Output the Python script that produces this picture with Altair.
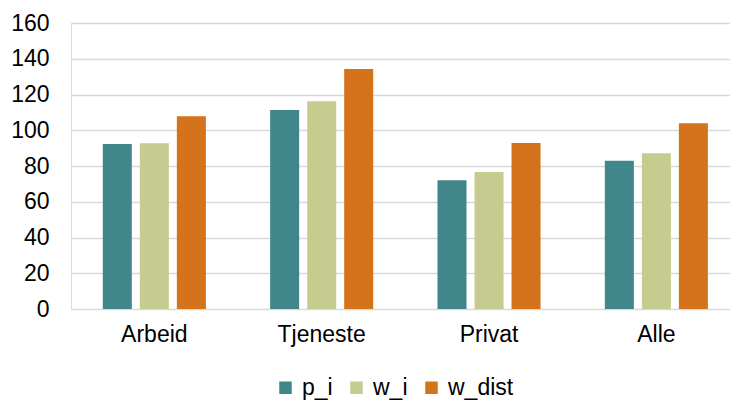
import altair as alt
import pandas as pd

categories = ["Arbeid", "Tjeneste", "Privat", "Alle"]
series = ["p_i", "w_i", "w_dist"]
p_i = [92.3, 111.3, 72.0, 83.0]
w_i = [92.7, 116.2, 76.6, 87.1]
w_dist = [107.8, 134.3, 92.9, 103.9]
colors = ["#41868A", "#C6CC8F", "#D4731C"]
y_ticks = [0, 20, 40, 60, 80, 100, 120, 140, 160]

rows = []
for s, vals in zip(series, [p_i, w_i, w_dist]):
    for c, v in zip(categories, vals):
        rows.append({"cat": c, "series": s, "value": v})
df = pd.DataFrame(rows)

FONT = "Liberation Sans"

chart = alt.Chart(df).mark_bar().encode(
    x=alt.X("cat:N", sort=categories,
            scale=alt.Scale(paddingInner=0.384, paddingOuter=0.161, align=0.59),
            axis=alt.Axis(title=None, labelAngle=0, ticks=False, domain=False,
                          labelFontSize=23, labelFont=FONT, labelColor="#000000",
                          labelPadding=14)),
    xOffset=alt.XOffset("series:N", sort=series,
                        scale=alt.Scale(paddingInner=0.216, paddingOuter=0)),
    y=alt.Y("value:Q", scale=alt.Scale(domain=[0, 160], nice=False),
            axis=alt.Axis(title=None, values=y_ticks, ticks=False, domain=False,
                          labelFontSize=23, labelFont=FONT, labelColor="#000000",
                          labelPadding=22, gridColor="#D9D9D9", gridWidth=1.5)),
    color=alt.Color("series:N", sort=series,
                    scale=alt.Scale(domain=series, range=colors),
                    legend=alt.Legend(title=None, orient="none", direction="horizontal",
                                      legendX=203, legendY=353,
                                      symbolType="square", symbolSize=156,
                                      symbolStrokeWidth=0,
                                      labelFontSize=23, labelFont=FONT,
                                      labelColor="#000000", columnPadding=12,
                                      labelOffset=5)),
).properties(
    width=659, height=286,
    autosize=alt.AutoSizeParams(type="none"),
    padding={"left": 71, "top": 23, "right": 0, "bottom": 92},
).configure_view(stroke=None).configure(background="#FFFFFF")

chart.save("out.html", embed_options={"renderer": "svg", "actions": False})
